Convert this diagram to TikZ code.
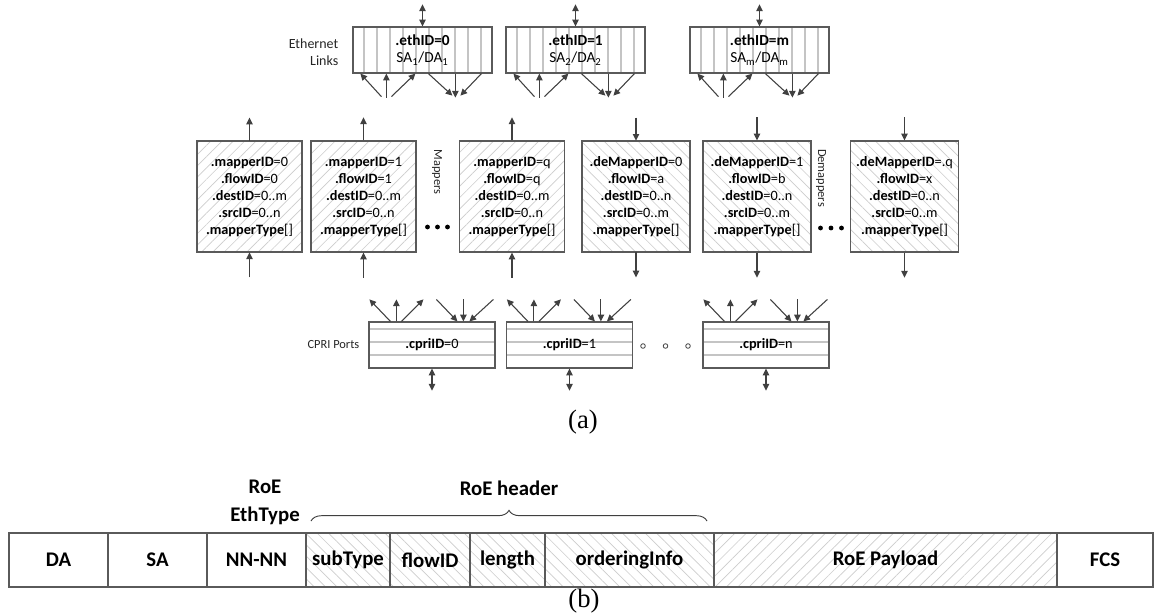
\documentclass[tikz,border=0pt]{standalone}
\usepackage{fontspec}
\setmainfont{Carlito}
\newfontfamily\capfont{Liberation Serif}
\usetikzlibrary{arrows.meta,patterns.meta,calc,decorations.pathreplacing}
\definecolor{edge}{HTML}{5A5A5A}
\definecolor{arr}{HTML}{404040}
\definecolor{stripe}{HTML}{C4C4C4}
\definecolor{hatch}{HTML}{CDCDCD}
\tikzset{
  ar/.style={draw=arr, line width=0.8pt, -{Triangle[length=5pt,width=4.8pt]}},
  dar/.style={draw=arr, line width=0.8pt, {Triangle[length=5pt,width=4.8pt]}-{Triangle[length=5pt,width=4.8pt]}},
  ethbox/.style={draw=edge, line width=0.9pt, minimum width=104.25pt, minimum height=34.5pt, inner sep=0pt, align=center,
    font=\fontsize{11.5}{12.75}\selectfont,
    path picture={\foreach \i in {0,...,9}{\draw[stripe,line width=0.9pt] ($(path picture bounding box.north west)+(11+13*\i,0)$) -- ($(path picture bounding box.south west)+(11+13*\i,0)$);}}},
  cpribox/.style={draw=edge, line width=0.9pt, minimum width=94.5pt, minimum height=34.5pt, inner sep=0pt, align=center,
    font=\fontsize{10.7}{12.75}\selectfont,
    path picture={\foreach \j in {7,20,33}{\draw[stripe,line width=0.9pt] ($(path picture bounding box.north west)+(0,\j)$) -- ($(path picture bounding box.north east)+(0,\j)$);}}},
  mapbox/.style={draw=edge, line width=0.9pt, minimum width=78.75pt, minimum height=83.25pt, inner sep=0pt, align=center,
    font=\fontsize{10.7}{12.75}\selectfont,
    pattern={Lines[angle=45,distance=6pt,line width=0.5pt]}, pattern color=hatch},
  demapbox/.style={mapbox, minimum width=81pt, pattern={Lines[angle=-45,distance=6pt,line width=0.5pt]}},
  cell/.style={draw=edge, line width=0.9pt, minimum height=40.5pt, inner sep=0pt, font=\fontsize{15.6}{21}\selectfont\bfseries},
  hcell/.style={cell, pattern={Lines[angle=-45,distance=6pt,line width=0.5pt]}, pattern color=hatch},
  pcell/.style={cell, pattern={Lines[angle=45,distance=6pt,line width=0.5pt]}, pattern color=hatch},
  lbl/.style={font=\fontsize{9.3}{12.75}\selectfont, text=black!85},
  capt/.style={font=\capfont\fontsize{20}{24}\selectfont}
}
\newcommand\ethfan[1]{%
  \coordinate (#1-u) at ($(#1.south west)+(34,24)$);
  \coordinate (#1-d) at ($(#1.south west)+(103,24)$);
  \coordinate (#1-t) at ($(#1.north)+(0,-22)$);
  \draw[dar] (#1-t) -- (#1.north);
  \draw[ar] ($(#1-u)+(-5,-1)$) -- ($(#1.south west)+(8,0)$);
  \draw[ar] (#1-u) -- ($(#1.south west)+(34,0)$);
  \draw[ar] ($(#1-u)+(5,-1)$) -- ($(#1.south west)+(63,0)$);
  \draw[ar] ($(#1.south west)+(76,0)$) -- ($(#1-d)+(-3,-2)$);
  \draw[ar] ($(#1.south west)+(103,0)$) -- (#1-d);
  \draw[ar] ($(#1.south west)+(129,0)$) -- ($(#1-d)+(5,-2)$);
}
\newcommand\cprifan[1]{%
  \coordinate (#1-b) at ($(#1.south)+(0,22)$);
  \draw[dar] (#1.south) -- (#1-b);
  \draw[ar] ($(#1.north west)+(22,0)$) -- ($(#1.north west)+(1,-22)$);
  \draw[ar] ($(#1.north west)+(28,0)$) -- ($(#1.north west)+(28,-22)$);
  \draw[ar] ($(#1.north west)+(33,0)$) -- ($(#1.north west)+(55,-22)$);
  \draw[ar] ($(#1.north west)+(68,-22)$) -- ($(#1.north west)+(89,0)$);
  \draw[ar] ($(#1.north west)+(95,-22)$) -- ($(#1.north west)+(95,0)$);
  \draw[ar] ($(#1.north west)+(125,-22)$) -- ($(#1.north west)+(101,0)$);
}
\newcommand\mapup[1]{%
  \coordinate (#1-b) at ($(#1.south)+(0,25)$);
  \coordinate (#1-t) at ($(#1.north)+(0,-23)$);
  \draw[ar] (#1-b) -- (#1.south);
  \draw[ar] (#1.north) -- (#1-t);
}
\newcommand\mapdown[1]{%
  \coordinate (#1-b) at ($(#1.south)+(0,25)$);
  \coordinate (#1-t) at ($(#1.north)+(0,-23)$);
  \draw[ar] (#1-t) -- (#1.north);
  \draw[ar] (#1.south) -- (#1-b);
}
\begin{document}
\begin{tikzpicture}[x=0.75pt,y=-0.75pt]
\useasboundingbox (0,0) rectangle (1155,612);
\fill[white] (0,0) rectangle (1155,612);

% Ethernet links
\node[lbl, font=\fontsize{10.5}{12.75}\selectfont, align=right, anchor=east] (ethl) at (343,52) {Ethernet\\Links};
\node[ethbox] (e0) at (422.5,50) {\textbf{.ethID=0}\\SA\textsubscript{1}/DA\textsubscript{1}};
\node[ethbox] (e1) at (575.5,50) {\textbf{.ethID=1}\\SA\textsubscript{2}/DA\textsubscript{2}};
\node[ethbox] (e2) at (759.5,50) {\textbf{.ethID=m}\\SA\textsubscript{m}/DA\textsubscript{m}};
\ethfan{e0}
\ethfan{e1}
\ethfan{e2}

% Mappers
\node[mapbox] (m0) at (249.5,196.5) {\textbf{.mapperID}=0\\\textbf{.flowID}=0\\\textbf{.destID}=0..m\\\textbf{.srcID}=0..n\\\textbf{.mapperType}[]};
\node[mapbox] (m1) at (363.5,196.5) {\textbf{.mapperID}=1\\\textbf{.flowID}=1\\\textbf{.destID}=0..m\\\textbf{.srcID}=0..n\\\textbf{.mapperType}[]};
\node[mapbox] (m2) at (512,196.5) {\textbf{.mapperID}=q\\\textbf{.flowID}=q\\\textbf{.destID}=0..m\\\textbf{.srcID}=0..n\\\textbf{.mapperType}[]};
\node[demapbox] (d0) at (636,196.5) {\textbf{.deMapperID}=0\\\textbf{.flowID}=a\\\textbf{.destID}=0..n\\\textbf{.srcID}=0..m\\\textbf{.mapperType}[]};
\node[demapbox] (d1) at (757,196.5) {\textbf{.deMapperID}=1\\\textbf{.flowID}=b\\\textbf{.destID}=0..n\\\textbf{.srcID}=0..m\\\textbf{.mapperType}[]};
\node[demapbox] (d2) at (904.5,196.5) {\textbf{.deMapperID}=.q\\\textbf{.flowID}=x\\\textbf{.destID}=0..n\\\textbf{.srcID}=0..m\\\textbf{.mapperType}[]};
\mapup{m0}
\mapup{m1}
\mapup{m2}
\mapdown{d0}
\mapdown{d1}
\mapdown{d2}
\node[lbl, rotate=-90] (mapl) at (437,172) {Mappers};
\node[lbl, rotate=-90] (demapl) at (821,178) {Demappers};
\fill[black] (427.5,227) circle (2.4) (437.5,227) circle (2.4) (447.5,227) circle (2.4);
\fill[black] (820.5,228) circle (2.4) (831,228) circle (2.4) (841.5,228) circle (2.4);

% CPRI ports
\node[lbl, font=\fontsize{9.3}{12.75}\selectfont, anchor=east] (cprl) at (364,345) {CPRI Ports};
\node[cpribox] (c0) at (432,345) {\textbf{.cpriID}=0};
\node[cpribox] (c1) at (569.5,345) {\textbf{.cpriID}=1};
\node[cpribox] (c2) at (766,345) {\textbf{.cpriID}=n};
\cprifan{c0}
\cprifan{c1}
\cprifan{c2}
\draw[arr, line width=0.6pt] (643,346) circle (2.3) (665.5,346) circle (2.3) (688,346) circle (2.3);

\node[capt] (capa) at (583,422) {(a)};

% Frame format
\node[cell, minimum width=74.25pt] (da) at (58.5,560) {DA};
\node[cell, minimum width=74.25pt] (sa) at (157.5,560) {SA};
\node[cell, minimum width=74.25pt] (nn) at (256.5,560) {NN-NN};
\node[hcell, minimum width=63pt] (st) at (348,560) {subType};
\node[hcell, minimum width=60pt] (fl) at (430,560) {flowID};
\node[hcell, minimum width=56.25pt] (ln) at (507.5,560) {length};
\node[hcell, minimum width=126.75pt] (oi) at (629.5,560) {orderingInfo};
\node[pcell, minimum width=257.25pt] (pl) at (885.5,560) {RoE Payload};
\node[cell, minimum width=72pt] (fcs) at (1105,560) {FCS};

\node[font=\fontsize{15.6}{21}\selectfont\bfseries, align=center] (eth) at (265,502) {RoE\\EthType};
\node[font=\fontsize{15.6}{21}\selectfont\bfseries] (hdr) at (509,488) {RoE header};
\coordinate (bl) at (311,521);
\coordinate (br) at (707,521);
\draw[draw=arr, line width=0.7pt, decorate, decoration={brace, amplitude=8pt}] (bl) -- (br);

\node[capt] (capb) at (584,601) {(b)};
\end{tikzpicture}
\end{document}
